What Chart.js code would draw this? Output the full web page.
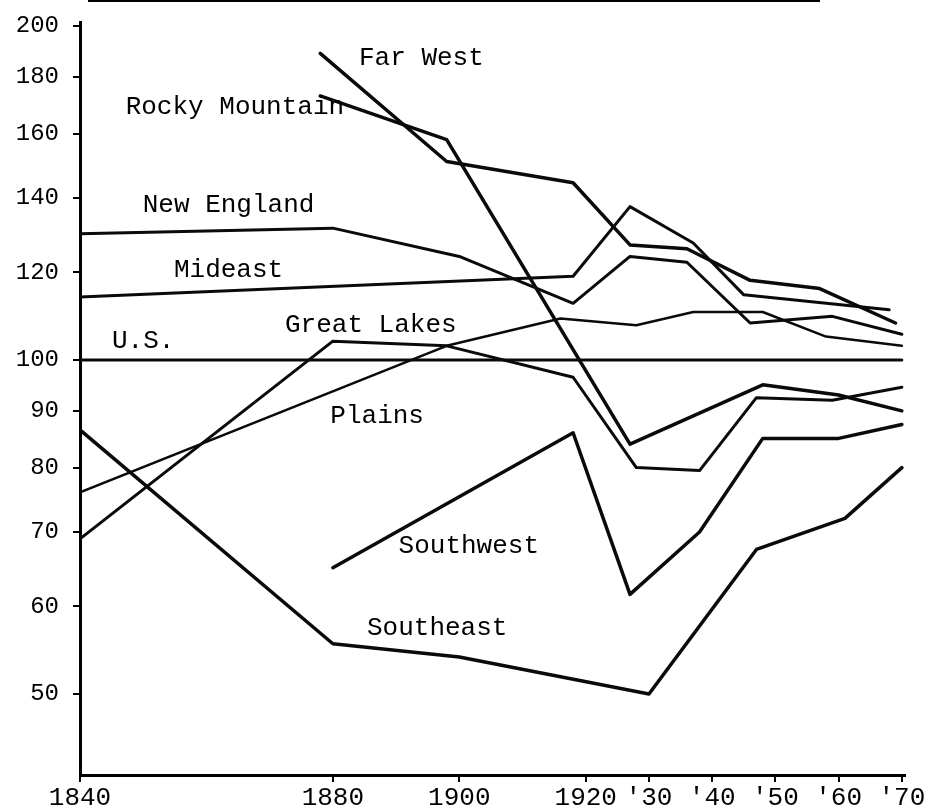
<!DOCTYPE html>
<html><head><meta charset="utf-8">
<script src="https://cdn.jsdelivr.net/npm/chart.js@4/dist/chart.umd.min.js"></script>
<style>
html,body{margin:0;padding:0;background:#fff;}
#wrap{position:relative;width:936px;height:810px;overflow:hidden;}
#rule{position:absolute;left:88px;top:0;width:732px;height:2px;background:#000;}
canvas{position:absolute;left:0;top:0;}
</style></head><body>
<div id="wrap"><canvas id="c" width="936" height="810"></canvas><div id="rule"></div></div>
<script>
// Tick values and labels
const xTickYears = [1840, 1880, 1900, 1920, 1930, 1940, 1950, 1960, 1970];
const xTickLabels = ['1840', '1880', '1900', '1920', "'30", "'40", "'50", "'60", "'70"];
const yTickValues = [50, 60, 70, 80, 90, 100, 120, 140, 160, 180, 200];

// Series (index, U.S. = 100)
const usYears = [1840, 1970];
const usValues = [100, 100];
const farWestYears = [1878, 1898, 1918, 1927, 1936, 1946, 1957, 1969];
const farWestValues = [189, 151, 144.5, 127, 126, 118, 116, 108];
const rockyYears = [1878, 1898, 1927, 1948, 1960, 1970];
const rockyValues = [173, 158, 84, 95, 93, 90];
const newEnglandYears = [1840, 1880, 1900, 1918, 1927, 1936, 1946, 1959, 1970];
const newEnglandValues = [130, 131.5, 124, 112.5, 124, 122.5, 108, 109.5, 105.5];
const mideastYears = [1840, 1918, 1927, 1937, 1945, 1968];
const mideastValues = [114, 119, 137.5, 127.5, 114.5, 111];
const greatLakesYears = [1840, 1898, 1916, 1928, 1937, 1948, 1958, 1970];
const greatLakesValues = [76, 103, 109, 107.5, 110.5, 110.5, 105, 103];
const plainsYears = [1840, 1880, 1898, 1918, 1928, 1938, 1947, 1959, 1970];
const plainsValues = [69, 104, 103, 96.5, 80, 79.5, 92.5, 92, 94.5];
const southwestYears = [1880, 1918, 1927, 1938, 1948, 1960, 1970];
const southwestValues = [65, 86, 61.5, 70, 85, 85, 87.5];
const southeastYears = [1840, 1880, 1900, 1930, 1947, 1961, 1970];
const southeastValues = [86.5, 55.5, 54, 50, 67.5, 72, 80];

// Line labels placed in data coordinates
const labelTexts = ['Far West', 'Rocky Mountain', 'New England', 'Mideast', 'Great Lakes', 'U.S.', 'Plains', 'Southwest', 'Southeast'];
const labelYears = [1894, 1864.5, 1863.5, 1863.5, 1886, 1850, 1887, 1901.5, 1896.5];
const labelValues = [187, 169, 138, 120.5, 107.5, 104, 89, 68, 57.3];

const pts = (xs, ys) => xs.map((x, i) => ({ x: x, y: ys[i] }));
const ds = (name, xs, ys, w) => ({
  label: name, data: pts(xs, ys), borderColor: '#0a0a0a', borderWidth: w,
  pointRadius: 0, tension: 0, fill: false, borderJoinStyle: 'round', borderCapStyle: 'round'
});

const FONT = '"Liberation Mono", "DejaVu Sans Mono", monospace';

const regionLabels = {
  id: 'regionLabels',
  afterDatasetsDraw(chart) {
    const { ctx, scales: { x, y } } = chart;
    ctx.save();
    ctx.font = '26px ' + FONT;
    ctx.fillStyle = '#000';
    ctx.textAlign = 'center';
    ctx.textBaseline = 'middle';
    labelTexts.forEach((t, i) => {
      ctx.fillText(t, x.getPixelForValue(labelYears[i]), y.getPixelForValue(labelValues[i]));
    });
    ctx.restore();
  }
};

new Chart(document.getElementById('c'), {
  type: 'line',
  data: {
    datasets: [
      ds('U.S.', usYears, usValues, 3),
      ds('Far West', farWestYears, farWestValues, 3.5),
      ds('Rocky Mountain', rockyYears, rockyValues, 3.5),
      ds('New England', newEnglandYears, newEnglandValues, 3),
      ds('Mideast', mideastYears, mideastValues, 3),
      ds('Great Lakes', greatLakesYears, greatLakesValues, 2.5),
      ds('Plains', plainsYears, plainsValues, 3),
      ds('Southwest', southwestYears, southwestValues, 3.5),
      ds('Southeast', southeastYears, southeastValues, 3.5)
    ]
  },
  options: {
    responsive: false,
    animation: false,
    events: [],
    layout: { padding: { top: 22, right: 31, left: 0, bottom: 0 } },
    plugins: { legend: { display: false }, tooltip: { enabled: false } },
    scales: {
      x: {
        type: 'linear', min: 1840, max: 1970.5, bounds: 'data',
        afterFit: s => { s.height = 35; s.paddingLeft = 0; s.paddingRight = 0; },
        afterBuildTicks: s => { s.ticks = xTickYears.map(v => ({ value: v })); },
        border: { display: true, color: '#000', width: 3 },
        grid: { drawOnChartArea: false, drawTicks: true, tickLength: 7, color: '#000', lineWidth: 2 },
        ticks: {
          autoSkip: false, maxRotation: 0, padding: 1, color: '#000',
          font: { family: FONT, size: 26 },
          callback: v => { const i = xTickYears.indexOf(v); return i < 0 ? '' : xTickLabels[i]; }
        }
      },
      y: {
        type: 'logarithmic', min: 42.27, max: 201.7, bounds: 'data',
        afterFit: s => { s.width = 80; s.paddingTop = 0; s.paddingBottom = 0; },
        afterBuildTicks: s => { s.ticks = yTickValues.map(v => ({ value: v })); },
        border: { display: true, color: '#000', width: 3 },
        grid: { drawOnChartArea: false, drawTicks: true, tickLength: 7, color: '#000', lineWidth: 2 },
        ticks: {
          autoSkip: false, padding: 14, color: '#000',
          font: { family: FONT, size: 24 },
          callback: v => String(v)
        }
      }
    }
  },
  plugins: [regionLabels]
});
</script>
</body></html>
